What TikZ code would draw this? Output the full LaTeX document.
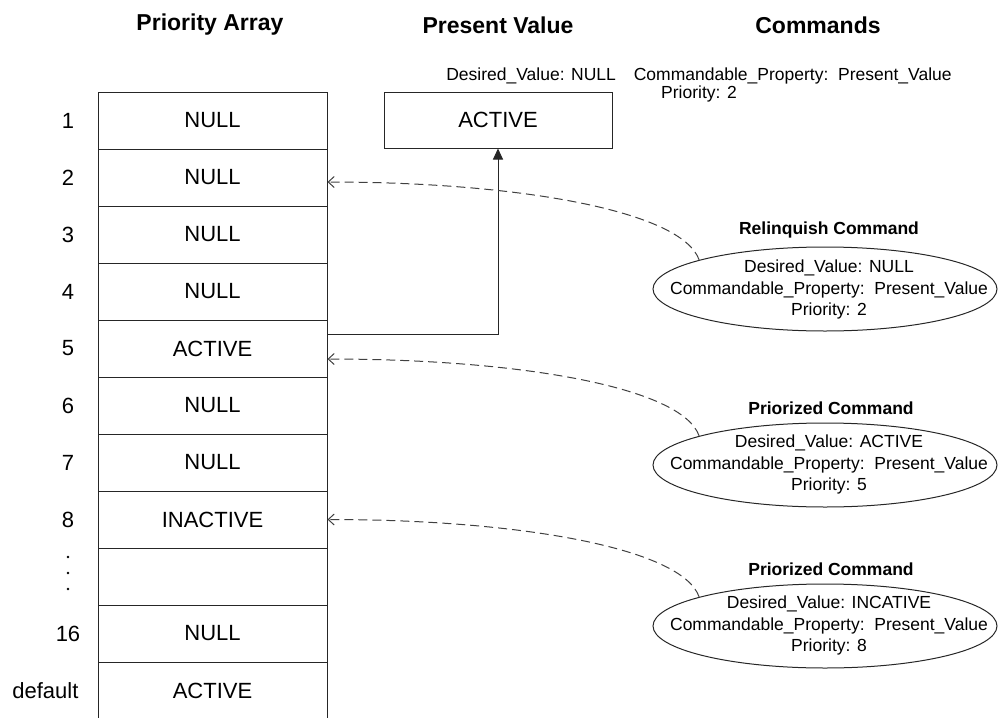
\documentclass[tikz,border=0pt]{standalone}
\usepackage{fontspec}
\setmainfont{Liberation Sans}
\usetikzlibrary{arrows.meta}
\usetikzlibrary{shapes.geometric}
\tikzset{cell/.style = {draw=black!85, line width=1pt, minimum width=229pt, minimum height=57pt,
                        inner sep=0pt, font=\fontsize{22}{26}\selectfont}}
\tikzset{index/.style = {font=\fontsize{22}{26}\selectfont}}
\tikzset{head/.style = {font=\fontsize{23}{27}\selectfont\bfseries}}
\tikzset{cmdshape/.style = {draw=black!85, ellipse, line width=1pt, minimum width=344pt,
                            minimum height=84pt, inner sep=0pt}}
\tikzset{cmdtext/.style = {align=center, inner sep=0pt, font=\fontsize{17.5}{21.5}\selectfont}}
\tikzset{cmdtitle/.style = {font=\fontsize{17.5}{21}\selectfont\bfseries}}
\tikzset{update/.style = {draw=black!85, line width=1pt, -{Triangle[length=11pt, width=10pt]}}}
\tikzset{command/.style = {draw=black!75, line width=1pt, dash pattern=on 9pt off 5pt,
                           -{Straight Barb[length=6pt, width=11pt]}}}

\begin{document}
\begin{tikzpicture}[x=1pt, y=-1pt]
      \useasboundingbox (0, 0) rectangle (1005, 718);

      \node [head] (hpa) at (210, 25) {Priority Array};
      \node [head] (hpv) at (498, 25) {Present Value};
      \node [head] (hcm) at (818, 25) {Commands};

      \foreach \val [count=\i] in {NULL,NULL,NULL,NULL,ACTIVE,NULL,NULL,INACTIVE,{},NULL,ACTIVE}
        \node [cell] (p\i) at (212.5, {63.5+57*\i}) {\val};

      \foreach \lab/\i in {1/1,2/2,3/3,4/4,5/5,6/6,7/7,8/8,16/10}
        \node [index] (n\i) at (68, {63.5+57*\i}) {\lab};
      \node [index, anchor=east] (n11) at (82, 691) {default};
      \foreach \d in {557, 573, 589}
        \fill (68, \d) circle (1.4pt);

      \node [cell, minimum width=228pt, minimum height=56pt] (pv) at (498, 120) {ACTIVE};
      \node [cmdtext, align=center, font=\fontsize{17.5}{18}\selectfont] (last) at (699, 85)
            {Desired\_Value: NULL\hspace{18pt}Commandable\_Property:\ \ Present\_Value\\Priority: 2};

      \draw [update] ([yshift=14pt]p5.east) -| (pv.south);

      \node [cmdtitle] (t1) at (829, 230) {Relinquish Command};
      \node [cmdshape] (e1) at (825, 289) {};
      \node [cmdtext] (c1) at (829, 289.5) {Desired\_Value: NULL\\Commandable\_Property:\ \ Present\_Value\\Priority: 2};

      \node [cmdtitle] (t2) at (831, 408) {Priorized Command};
      \node [cmdshape] (e2) at (825, 465) {};
      \node [cmdtext] (c2) at (829, 464.5) {Desired\_Value: ACTIVE\\Commandable\_Property:\ \ Present\_Value\\Priority: 5};

      \node [cmdtitle] (t3) at (831, 569) {Priorized Command};
      \node [cmdshape] (e3) at (825, 626) {};
      \node [cmdtext] (c3) at (829, 625.5) {Desired\_Value: INCATIVE\\Commandable\_Property:\ \ Present\_Value\\Priority: 8};

      \foreach \e/\p/\s in {e1/p2/-4.5, e2/p5/-10.5, e3/p8/0}
        \draw [command] (\e.167) .. controls +(-17, -49) and +(191, 0) .. ([yshift=\s pt]\p.east);
    \end{tikzpicture}
\end{document}
